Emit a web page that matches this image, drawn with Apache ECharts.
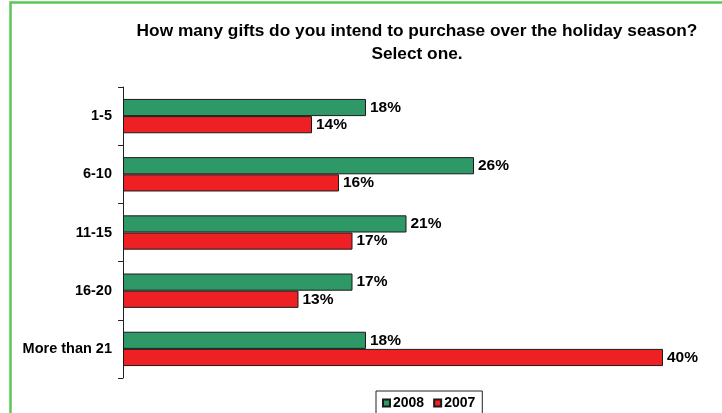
<!DOCTYPE html>
<html><head><meta charset="utf-8">
<script src="https://cdn.jsdelivr.net/npm/echarts@6/dist/echarts.min.js"></script>
<style>html,body{margin:0;padding:0;background:#fff}#c{width:722px;height:413px}</style>
</head><body><div id="c"></div>
<script>
const categories = ['1-5', '6-10', '11-15', '16-20', 'More than 21'];
const values2008 = [18, 26, 21, 17, 18];
const values2007 = [14, 16, 17, 13, 40];
const seriesNames = ['2008', '2007'];
const titleText = 'How many gifts do you intend to purchase over the holiday season?\nSelect one.';

const chart = echarts.init(document.getElementById('c'));
const font = 'Liberation Sans, Arial, sans-serif';
const label = {show: true, position: 'right', distance: 4, formatter: '{c}%', color: '#000', fontWeight: 'bold', fontSize: 15.5, fontFamily: font};
chart.setOption({
  animation: false,
  graphic: [{type: 'rect', shape: {x: 10.5, y: 2.5, width: 740, height: 440}, style: {fill: 'none', stroke: '#5CC656', lineWidth: 2.5}}],
  title: {text: titleText, left: 412, top: 15, textAlign: 'center',
    textStyle: {fontFamily: font, fontWeight: 'bold', fontSize: 17.3, lineHeight: 23, color: '#000'}},
  legend: {top: 391, left: 376, itemWidth: 7, itemHeight: 7, itemGap: 9, padding: [5, 7, 6, 6],
    borderColor: '#222', borderWidth: 1, icon: 'rect',
    textStyle: {fontFamily: font, fontWeight: 'bold', fontSize: 14, color: '#000', padding: [0, 0, 0, -2]},
    data: seriesNames},
  grid: {left: 123, top: 87, width: 540, height: 291},
  xAxis: {type: 'value', min: 0, max: 40, show: false},
  yAxis: {type: 'category', data: categories, inverse: true,
    axisLine: {lineStyle: {color: '#222', width: 1}},
    axisTick: {show: true, length: 5, lineStyle: {color: '#222'}},
    axisLabel: {fontFamily: font, fontWeight: 'bold', fontSize: 14.5, color: '#000', margin: 11}},
  series: [
    {name: seriesNames[0], type: 'bar', data: values2008, barGap: '0%', barCategoryGap: '41%',
      itemStyle: {color: '#2E9966', borderColor: '#1a1a1a', borderWidth: 1}, label: label},
    {name: seriesNames[1], type: 'bar', data: values2007, barGap: '0%', barCategoryGap: '41%',
      itemStyle: {color: '#EE2024', borderColor: '#1a1a1a', borderWidth: 1}, label: label}
  ]
});
</script></body></html>
